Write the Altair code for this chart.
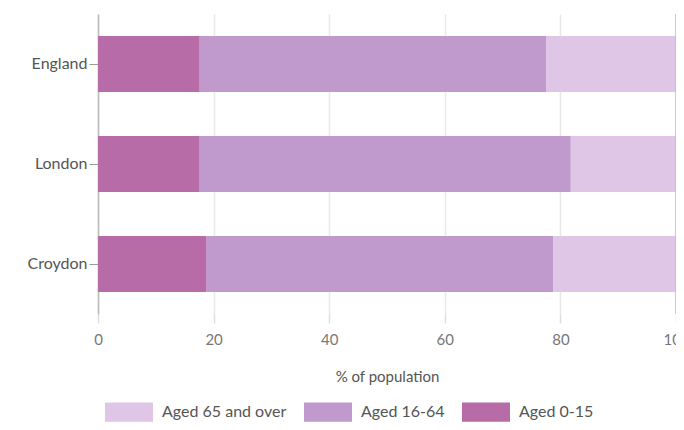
import altair as alt
import pandas as pd

categories = ["England", "London", "Croydon"]
aged_0_15 = [17.6, 17.6, 18.8]
aged_16_64 = [60.0, 64.2, 60.0]
aged_65_over = [22.4, 18.2, 21.2]

groups = ["Aged 65 and over", "Aged 16-64", "Aged 0-15"]
colors = ["#dfc5e6", "#c19acd", "#b76ba7"]

rows = []
for i, c in enumerate(categories):
    rows.append({"area": c, "group": "Aged 0-15", "value": aged_0_15[i], "ord": 0})
    rows.append({"area": c, "group": "Aged 16-64", "value": aged_16_64[i], "ord": 1})
    rows.append({"area": c, "group": "Aged 65 and over", "value": aged_65_over[i], "ord": 2})
df = pd.DataFrame(rows)

font = "Lato"

bars = alt.Chart(df).mark_bar(stroke=None).encode(
    y=alt.Y("area:N", sort=categories, title=None,
            scale=alt.Scale(paddingInner=0.44, paddingOuter=0.22),
            axis=alt.Axis(labelFontSize=16, labelColor="#555", labelFont=font,
                          tickColor="#999", tickSize=9, labelPadding=2,
                          domainColor="#bbb", domainWidth=1.5, grid=False)),
    x=alt.X("value:Q", stack="zero", title="% of population",
            scale=alt.Scale(domain=[0, 100], nice=False),
            axis=alt.Axis(values=[0, 20, 40, 60, 80, 100], labelFontSize=15,
                          labelColor="#777", labelFont=font, tickColor="#ddd",
                          tickSize=9, tickWidth=1.5, labelPadding=9, domain=False,
                          labelFlush=False,
                          gridColor="#e8e8e8", gridWidth=1.5,
                          titleFont=font, titleFontSize=15, titleFontWeight="normal",
                          titleColor="#555", titlePadding=22)),
    color=alt.Color("group:N", scale=alt.Scale(domain=groups, range=colors),
                    legend=alt.Legend(orient="none", legendX=7, legendY=374,
                                      direction="horizontal", title=None,
                                      symbolType="M-1,-0.4H1V0.4H-1Z",
                                      symbolSize=2304, symbolStrokeWidth=0,
                                      symbolOpacity=1, labelFontSize=16,
                                      labelFont=font, labelColor="#555",
                                      labelOffset=9, columnPadding=17)),
    order=alt.Order("ord:Q", sort="ascending"),
)

edge_df = pd.DataFrame({"v": [100]})
edge = alt.Chart(edge_df).mark_rule(color="#bbb", strokeWidth=1.5).encode(x="v:Q")

chart = alt.layer(bars, edge).properties(
    width=578, height=300,
    autosize=alt.AutoSizeParams(type="none"),
    padding={"left": 90, "top": 6, "right": 0, "bottom": 108},
).configure_view(stroke=None)

chart.save("out.html", embed_options={"renderer": "svg", "actions": False})
